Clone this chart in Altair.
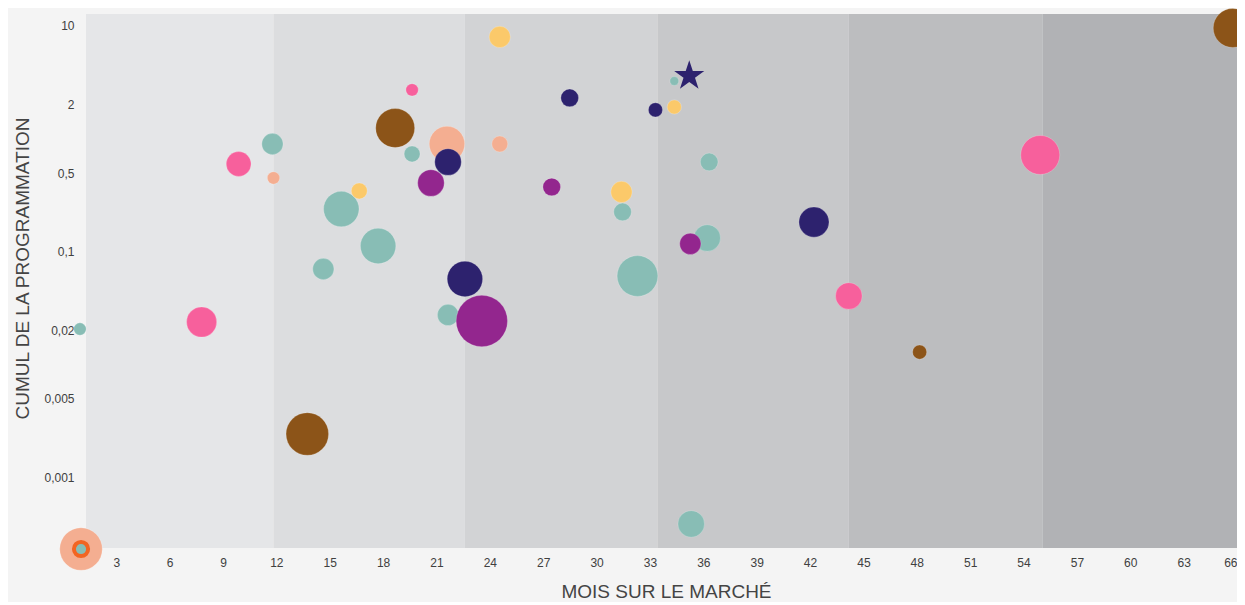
import altair as alt
import pandas as pd
import math

# ---------------- data ----------------
groupe = (["A"] * 13) + (["B"] * 4) + (["C"] * 4) + (["D"] * 5) + (["E"] * 4) + (["F"] * 4) + (["G"] * 5)

mois = [
    # A (vert d'eau)
    0.96, 11.78, 14.64, 15.65, 17.72, 19.63, 21.65, 31.46, 32.30, 34.37, 35.32, 36.22, 36.33,
    # B (saumon)
    1.02, 11.84, 21.59, 24.56,
    # C (jaune)
    16.66, 24.56, 31.40, 34.37,
    # D (rose)
    7.80, 9.88, 19.63, 44.18, 54.94,
    # E (brun)
    13.74, 18.68, 48.16, 65.76,
    # F (violet)
    20.69, 23.55, 27.48, 35.27,
    # G (bleu nuit)
    21.65, 22.60, 28.49, 33.31, 42.22,
]

cumul = [
    0.0208, 0.903, 0.0707, 0.240, 0.113, 0.737, 0.0277, 0.226, 0.0613, 3.26, 0.000392, 0.133, 0.626,
    0.000235, 0.452, 0.903, 0.903,
    0.347, 8.0, 0.340, 1.92,
    0.0240, 0.601, 2.72, 0.0408, 0.722,
    0.00245, 1.25, 0.0130, 9.6,
    0.408, 0.0245, 0.376, 0.118,
    0.626, 0.0577, 2.31, 1.81, 0.184,
]

taille = [
    49, 144, 144, 400, 400, 81, 144, 100, 529, 25, 225, 225, 100,
    576, 49, 400, 81,
    81, 144, 144, 64,
    289, 196, 49, 225, 484,
    576, 484, 64, 484,
    225, 841, 100, 144,
    225, 400, 100, 64, 289,
]

groupes_ordre = ["A", "B", "C", "D", "E", "F", "G"]
groupes_couleurs = ["#88bdb5", "#f4ae91", "#fbc96a", "#f7609c", "#8c5418", "#93268e", "#2d226e"]

# background zones (months)
zone_id = ["Z1", "Z2", "Z3", "Z4", "Z5", "Z6"]
zone_debut = [1.3, 11.84, 22.6, 33.42, 44.18, 55.06]
zone_fin = [11.84, 22.6, 33.42, 44.18, 55.06, 66.0]
zone_couleurs = ["#e5e6e8", "#dcdddf", "#d2d3d5", "#c7c8ca", "#bcbdbf", "#b1b2b5"]

# highlighted items
etoile_mois = [35.21]
etoile_cumul = [3.61]
repere_mois = [1.02]
repere_cumul = [0.000235]

x_ticks = list(range(3, 67, 3))
y_ticks = [0.001, 0.005, 0.02, 0.1, 0.5, 2, 10]

# ---------------- tables ----------------
bulles = pd.DataFrame({"mois": mois, "cumul": cumul, "taille": taille, "groupe": groupe})
zones = pd.DataFrame({"zone": zone_id, "debut": zone_debut, "fin": zone_fin})
etoile = pd.DataFrame({"mois": etoile_mois, "cumul": etoile_cumul})
repere = pd.DataFrame({"mois": repere_mois, "cumul": repere_cumul})

W, H = 1151, 534
FONT = "Liberation Sans"

xscale = alt.Scale(domain=[1.3, 66], nice=False, zero=False)
yscale = alt.Scale(type="log", domain=[0.00024, 12.77], nice=False)

x_axis = alt.Axis(
    values=x_ticks, title="MOIS SUR LE MARCHÉ", grid=False, domain=False, ticks=False,
    labelFontSize=12, labelColor="#404040", labelPadding=9, labelFlush=True,
    labelOverlap=False, labelFont=FONT,
    titleFontSize=19, titleFontWeight="normal", titleColor="#444444", titleFont=FONT,
    titleX=580, titleY=49, titleBaseline="alphabetic",
)
y_axis = alt.Axis(
    values=y_ticks, title="CUMUL DE LA PROGRAMMATION", grid=False, domain=False, ticks=False,
    labelExpr="replace(toString(datum.value), '.', ',')",
    labelFontSize=12, labelColor="#404040", labelPadding=12, labelFlush=False,
    labelOverlap=False, labelFont=FONT,
    titleFontSize=19, titleFontWeight="normal", titleColor="#444444", titleFont=FONT,
    titleX=-64, titleY=254, titleBaseline="middle", titleAngle=270,
)

fond = alt.Chart(zones).mark_rect().encode(
    x=alt.X("debut:Q", scale=xscale, axis=x_axis),
    x2="fin:Q",
    y=alt.value(0),
    y2=alt.value(H),
    color=alt.Color("zone:N", scale=alt.Scale(domain=zone_id, range=zone_couleurs), legend=None),
)

points = alt.Chart(bulles).mark_circle(opacity=1, stroke="white", strokeWidth=0.6, strokeOpacity=0.35).encode(
    x=alt.X("mois:Q", scale=xscale, axis=x_axis),
    y=alt.Y("cumul:Q", scale=yscale, axis=y_axis),
    size=alt.Size("taille:Q", scale=alt.Scale(type="linear", domain=[0, 1000], range=[0, 1000 * math.pi]), legend=None),
    color=alt.Color("groupe:N", scale=alt.Scale(domain=groupes_ordre, range=groupes_couleurs), legend=None),
)

anneau = alt.Chart(repere).mark_point(
    filled=True, fill="#88bdb5", stroke="#f26522", strokeWidth=4, opacity=1, strokeOpacity=1, size=201
).encode(
    x=alt.X("mois:Q", scale=xscale, axis=x_axis),
    y=alt.Y("cumul:Q", scale=yscale, axis=y_axis),
)

STAR = ("M0,-1L0.2245,-0.309L0.951,-0.309L0.363,0.118L0.588,0.809L0,0.382"
        "L-0.588,0.809L-0.363,0.118L-0.951,-0.309L-0.2245,-0.309Z")
star = alt.Chart(etoile).mark_point(
    shape=STAR, filled=True, color="#2d226e", opacity=1, size=1000
).encode(
    x=alt.X("mois:Q", scale=xscale, axis=x_axis),
    y=alt.Y("cumul:Q", scale=yscale, axis=y_axis),
)

chart = alt.layer(fond, points, anneau, star).resolve_scale(
    color="independent"
).properties(
    width=W, height=H,
    padding={"left": 78, "top": 6, "right": 0, "bottom": 54},
    autosize=alt.AutoSizeParams(type="none"),
).configure(
    background="#f4f4f4", font=FONT
).configure_view(stroke=None)

chart.save("out.html", embed_options={"renderer": "svg", "actions": False})
